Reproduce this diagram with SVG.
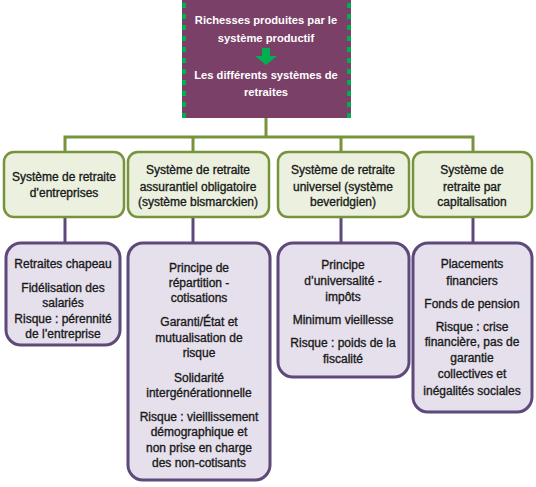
<svg xmlns="http://www.w3.org/2000/svg" width="536" height="487" viewBox="0 0 536 487">
<style>
text{font-family:"Liberation Sans",Arial,sans-serif;font-size:12px;text-anchor:middle;fill:#1a1a1a;stroke:#1a1a1a;stroke-width:0.35}
.top text{fill:#ffffff;stroke:none;font-weight:bold;font-size:11.2px}
.l1{fill:#EBF1DE;stroke:#77933C;stroke-width:2.5}
.l2{fill:#E5E0EC;stroke:#5F497A;stroke-width:3}
.cg{stroke:#77933C;stroke-width:3;fill:none}
.cp{stroke:#5F497A;stroke-width:3;fill:none}
.dash{stroke:#00B050;stroke-width:4;stroke-dasharray:5 6}
</style>
<g id="connectors">
<polyline class="cg" points="266,118 266,137"/>
<polyline class="cg" points="65,152 65,137 473,137 473,152"/>
<line class="cg" x1="193" y1="137" x2="193" y2="152"/>
<line class="cg" x1="341" y1="137" x2="341" y2="152"/>
<line class="cp" x1="65" y1="217" x2="65" y2="243"/>
<line class="cp" x1="193" y1="217" x2="193" y2="243"/>
<line class="cp" x1="341" y1="217" x2="341" y2="243"/>
<line class="cp" x1="473" y1="217" x2="473" y2="243"/>
</g>
<g id="top" class="top">
<rect x="182" y="0" width="169" height="118" fill="#7B4068"/>
<line class="dash" x1="184" y1="3" x2="184" y2="118"/>
<line class="dash" x1="349" y1="3" x2="349" y2="118"/>
<text x="266" y="24">Richesses produites par le</text>
<text x="266" y="42">système productif</text>
<polygon points="262,48 270,48 270,56 277,56 266,65 255,56 262,56" fill="#00B050"/>
<text x="266" y="79">Les différents systèmes de</text>
<text x="266" y="96">retraites</text>
</g>
<g id="s1">
<rect class="l1" x="4" y="152" width="120" height="65" rx="10"/>
<text x="64" y="181">Système de retraite</text>
<text x="64" y="197">d’entreprises</text>
</g>
<g id="s2">
<rect class="l1" x="128" y="152" width="141" height="65" rx="10"/>
<text x="198" y="174">Système de retraite</text>
<text x="198" y="191">assurantiel obligatoire</text>
<text x="198" y="206">(système bismarckien)</text>
</g>
<g id="s3">
<rect class="l1" x="278" y="152" width="131" height="65" rx="10"/>
<text x="343" y="174">Système de retraite</text>
<text x="343" y="191">universel (système</text>
<text x="343" y="206">beveridgien)</text>
</g>
<g id="s4">
<rect class="l1" x="413" y="152" width="119" height="65" rx="10"/>
<text x="472" y="174">Système de</text>
<text x="472" y="191">retraite par</text>
<text x="472" y="206">capitalisation</text>
</g>
<g id="d1">
<rect class="l2" x="6" y="243" width="114" height="102" rx="15"/>
<text x="63" y="268">Retraites chapeau</text>
<text x="63" y="292">Fidélisation des</text>
<text x="63" y="307">salariés</text>
<text x="63" y="323">Risque : pérennité</text>
<text x="63" y="338">de l’entreprise</text>
</g>
<g id="d2">
<rect class="l2" x="128" y="243" width="142" height="237" rx="15"/>
<text x="199" y="272">Principe de</text>
<text x="199" y="287">répartition -</text>
<text x="199" y="302">cotisations</text>
<text x="199" y="326">Garanti/État et</text>
<text x="199" y="342">mutualisation de</text>
<text x="199" y="357">risque</text>
<text x="199" y="382">Solidarité</text>
<text x="199" y="397">intergénérationnelle</text>
<text x="199" y="421">Risque : vieillissement</text>
<text x="199" y="436">démographique et</text>
<text x="199" y="452">non prise en charge</text>
<text x="199" y="467">des non-cotisants</text>
</g>
<g id="d3">
<rect class="l2" x="278" y="243" width="131" height="134" rx="15"/>
<text x="343" y="269">Principe</text>
<text x="343" y="285">d’universalité -</text>
<text x="343" y="301">impôts</text>
<text x="343" y="324">Minimum vieillesse</text>
<text x="343" y="347">Risque : poids de la</text>
<text x="343" y="363">fiscalité</text>
</g>
<g id="d4">
<rect class="l2" x="413" y="243" width="119" height="169" rx="15"/>
<text x="472" y="268">Placements</text>
<text x="472" y="285">financiers</text>
<text x="472" y="308">Fonds de pension</text>
<text x="472" y="331">Risque : crise</text>
<text x="472" y="346">financière, pas de</text>
<text x="472" y="362">garantie</text>
<text x="472" y="378">collectives et</text>
<text x="472" y="395">inégalités sociales</text>
</g>
</svg>
